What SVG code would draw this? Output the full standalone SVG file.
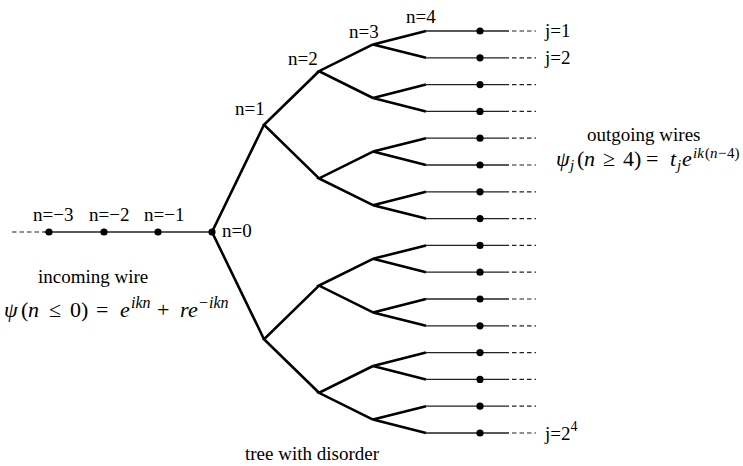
<svg xmlns="http://www.w3.org/2000/svg" width="743" height="466" viewBox="0 0 743 466" font-family="'Liberation Serif', 'Times New Roman', Times, 'DejaVu Serif', serif">
<style>
.t{font-size:19px;fill:#000}
.m{font-size:22px;fill:#000}
.i{font-style:italic}
.s{font-size:16px}
.s2{font-size:15px}
.br{fill:none;stroke:#000;stroke-width:2.6;stroke-linejoin:miter;stroke-linecap:butt}
.w{fill:none;stroke:#222;stroke-width:1.3}
.d{fill:none;stroke:#222;stroke-width:1.2;stroke-dasharray:4.5 3}
.dot{fill:#000}
</style>
<rect width="743" height="466" fill="#fff"/>
<g id="connectors">
<path class="d" d="M12 232H44"/>
<path class="w" d="M44 232H212"/>
<path class="br" d="M264 124.8L212 232L264 339.2"/>
<path class="br" d="M319 71.2L264 124.8L319 178.4"/>
<path class="br" d="M319 285.6L264 339.2L319 392.8"/>
<path class="br" d="M373 44.4L319 71.2L373 98M373 151.6L319 178.4L373 205.2M373 258.8L319 285.6L373 312.4M373 366L319 392.8L373 419.6"/>
<path class="br" d="M426 31L373 44.4L426 57.8M426 84.6L373 98L426 111.4M426 138.2L373 151.6L426 165M426 191.8L373 205.2L426 218.6M426 245.4L373 258.8L426 272.2M426 299L373 312.4L426 325.8M426 352.6L373 366L426 379.4M426 406.2L373 419.6L426 433"/>
<path class="w" d="M425 31H509M425 57.8H509M425 84.6H509M425 111.4H509M425 138.2H509M425 165H509M425 191.8H509M425 218.6H509M425 245.4H509M425 272.2H509M425 299H509M425 325.8H509M425 352.6H509M425 379.4H509M425 406.2H509M425 433H509"/>
<path class="d" d="M512 31H536M512 57.8H536M512 84.6H536M512 111.4H536M512 138.2H536M512 165H536M512 191.8H536M512 218.6H536M512 245.4H536M512 272.2H536M512 299H536M512 325.8H536M512 352.6H536M512 379.4H536M512 406.2H536M512 433H536"/>
</g>
<g id="incoming">
<circle class="dot" cx="49" cy="232" r="3.6"/>
<circle class="dot" cx="104" cy="232" r="3.6"/>
<circle class="dot" cx="158" cy="232" r="3.6"/>
<text class="t" x="33" y="221">n=−3</text>
<text class="t" x="89" y="221">n=−2</text>
<text class="t" x="144" y="221">n=−1</text>
</g>
<g id="root">
<circle class="dot" cx="212" cy="232" r="3.6"/>
<text class="t" x="222" y="237">n=0</text>
</g>
<g id="levels">
<text class="t" x="235" y="115">n=1</text>
<text class="t" x="288" y="65">n=2</text>
<text class="t" x="349" y="38">n=3</text>
<text class="t" x="406" y="23">n=4</text>
</g>
<g id="outgoing">
<circle class="dot" cx="480" cy="31" r="3.6"/>
<circle class="dot" cx="480" cy="57.8" r="3.6"/>
<circle class="dot" cx="480" cy="84.6" r="3.6"/>
<circle class="dot" cx="480" cy="111.4" r="3.6"/>
<circle class="dot" cx="480" cy="138.2" r="3.6"/>
<circle class="dot" cx="480" cy="165" r="3.6"/>
<circle class="dot" cx="480" cy="191.8" r="3.6"/>
<circle class="dot" cx="480" cy="218.6" r="3.6"/>
<circle class="dot" cx="480" cy="245.4" r="3.6"/>
<circle class="dot" cx="480" cy="272.2" r="3.6"/>
<circle class="dot" cx="480" cy="299" r="3.6"/>
<circle class="dot" cx="480" cy="325.8" r="3.6"/>
<circle class="dot" cx="480" cy="352.6" r="3.6"/>
<circle class="dot" cx="480" cy="379.4" r="3.6"/>
<circle class="dot" cx="480" cy="406.2" r="3.6"/>
<circle class="dot" cx="480" cy="433" r="3.6"/>
<text class="t" x="545" y="37">j=1</text>
<text class="t" x="545" y="64">j=2</text>
<text class="t" x="545" y="440">j=2<tspan font-size="14" dy="-9">4</tspan></text>
</g>
<g id="captions">
<text class="t" x="38" y="283">incoming wire</text>
<text class="m" y="317"><tspan class="i" x="4">ψ</tspan><tspan x="21">(</tspan><tspan class="i" x="28">n</tspan><tspan x="49">≤</tspan><tspan x="70">0</tspan><tspan x="81">)</tspan><tspan x="96">=</tspan><tspan class="i" x="120">e</tspan><tspan class="i s" x="131" dy="-9">ikn</tspan><tspan x="157" dy="9">+</tspan><tspan class="i" x="180">r</tspan><tspan class="i" x="188">e</tspan><tspan class="s" x="199" dy="-9">−</tspan><tspan class="i s" x="209">ikn</tspan></text>
<text class="t" x="587" y="141">outgoing wires</text>
<text class="m" y="166"><tspan class="i" x="556">ψ</tspan><tspan class="i s2" x="570" dy="4">j</tspan><tspan x="577" dy="-4">(</tspan><tspan class="i" x="584">n</tspan><tspan x="603">≥</tspan><tspan x="623">4</tspan><tspan x="634">)</tspan><tspan x="646">=</tspan><tspan class="i" x="670">t</tspan><tspan class="i s2" x="677" dy="4">j</tspan><tspan class="i" x="682" dy="-4">e</tspan><tspan class="i s2" x="693" dy="-8">ik</tspan><tspan class="s2" x="705">(</tspan><tspan class="i s2" x="710">n</tspan><tspan class="s2" x="718">−</tspan><tspan class="s2" x="727">4)</tspan></text>
<text class="t" x="245" y="460">tree with disorder</text>
</g>
</svg>
